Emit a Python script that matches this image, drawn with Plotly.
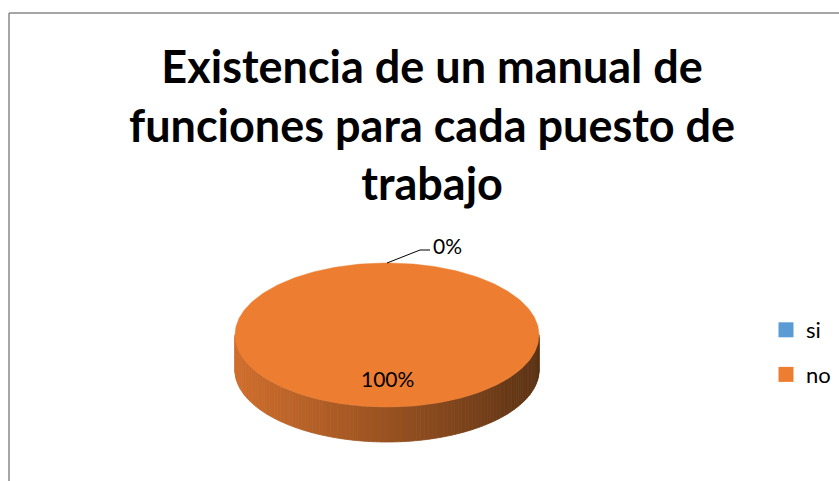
import math
import plotly.graph_objects as go

# Survey answers: does each job position have a manual of functions?
categories = ["si", "no"]
values = [0, 100]
colors = ["#5B9BD5", "#ED7D31"]
title_text = "Existencia de un manual de<br>funciones para cada puesto de<br>trabajo"

W, H = 839, 481
FONT = "Lato"

# 3D pie geometry (pixel-like axis units)
cx, cy = 387, 335
rx, ry = 152, 72
depth = 35

total = sum(values)
fracs = [v / total for v in values]


def pt(theta, dy=0.0, scale=1.0):
    # theta in radians, clockwise from 12 o'clock
    return (cx + scale * rx * math.sin(theta), cy - scale * ry * math.cos(theta) + dy)


def mix(c1, c2, t):
    a = [int(c1[i:i + 2], 16) for i in (1, 3, 5)]
    b = [int(c2[i:i + 2], 16) for i in (1, 3, 5)]
    return "#%02x%02x%02x" % tuple(round(a[k] + (b[k] - a[k]) * t) for k in range(3))


side_light = "#cf6e2d"
side_dark = "#5a3214"

fig = go.Figure()

# side walls (front half only), shaded left to right
starts = []
acc = 0.0
for f in fracs:
    starts.append(acc)
    acc += f
steps = 120
for i, f in enumerate(fracs):
    if f <= 0:
        continue
    a0 = starts[i] * 2 * math.pi
    a1 = (starts[i] + f) * 2 * math.pi
    lo = max(a0, math.pi / 2)
    hi = min(a1, 3 * math.pi / 2)
    if hi <= lo:
        continue
    n = max(2, int(steps * (hi - lo) / math.pi))
    for k in range(n):
        t0 = lo + (hi - lo) * k / n
        t1 = lo + (hi - lo) * (k + 1) / n
        p0, p1 = pt(t0), pt(t1)
        q1, q0 = pt(t1, depth), pt(t0, depth)
        xm = (p0[0] + p1[0]) / 2
        shade = (cx + rx - xm) / (2 * rx)  # 0 at right, 1 at left
        col = mix(side_dark, side_light, shade ** 0.9)
        fig.add_trace(go.Scatter(
            x=[p0[0], p1[0], q1[0], q0[0], p0[0]],
            y=[p0[1], p1[1], q1[1], q0[1], p0[1]],
            mode="lines", fill="toself", fillcolor=col,
            line=dict(color=col, width=0.8),
            hoverinfo="skip", showlegend=False))

# top faces
for i, f in enumerate(fracs):
    if f <= 0:
        continue
    a0 = starts[i] * 2 * math.pi
    a1 = (starts[i] + f) * 2 * math.pi
    n = max(2, int(360 * f))
    xs, ys = [cx], [cy]
    for k in range(n + 1):
        p = pt(a0 + (a1 - a0) * k / n)
        xs.append(p[0])
        ys.append(p[1])
    xs.append(cx)
    ys.append(cy)
    fig.add_trace(go.Scatter(
        x=xs, y=ys, mode="lines", fill="toself", fillcolor=colors[i],
        line=dict(color=colors[i], width=0.5),
        hoverinfo="skip", showlegend=False))

# data labels
annotations = []
for i, f in enumerate(fracs):
    mid = (starts[i] + f / 2) * 2 * math.pi
    label = f"{round(values[i] / total * 100)}%"
    if f >= 0.05:
        lx, ly = pt(mid, scale=0.6)
        annotations.append(dict(x=lx, y=ly, text=label, showarrow=False,
                                font=dict(family=FONT, size=21, color="#000000"),
                                xanchor="center", yanchor="middle"))
    else:
        ex, ey = pt(mid)
        bx, by = ex + 33, ey - 13
        fig.add_trace(go.Scatter(x=[ex, bx, bx + 10], y=[ey, by, by], mode="lines",
                                 line=dict(color="#000000", width=1),
                                 hoverinfo="skip", showlegend=False))
        annotations.append(dict(x=bx + 11, y=by - 5, text=label, showarrow=False,
                                font=dict(family=FONT, size=21, color="#000000"),
                                xanchor="left", yanchor="middle"))

# legend entries
for name, col in zip(categories, colors):
    fig.add_trace(go.Scatter(x=[None], y=[None], mode="markers", name=name,
                             legendgroup=name,
                             marker=dict(symbol="square", size=15, color=col)))

annotations.append(dict(x=432, y=124, text=f"<b>{title_text}</b>",
                        showarrow=False, font=dict(family=FONT, size=45, color="#000000"),
                        xanchor="center", yanchor="middle"))

# chart frame
shapes = [
    dict(type="line", x0=9, x1=W + 5, y0=13, y1=13, line=dict(color="#898989", width=1.5)),
    dict(type="line", x0=9, x1=9, y0=13, y1=H + 5, line=dict(color="#898989", width=1.5)),
]

fig.update_layout(
    width=W, height=H,
    margin=dict(l=0, r=0, t=0, b=0),
    paper_bgcolor="white", plot_bgcolor="white",
    xaxis=dict(range=[0, W], visible=False, fixedrange=True),
    yaxis=dict(range=[H, 0], visible=False, fixedrange=True),
    showlegend=True,
    legend=dict(x=766 / W, y=1 - 309 / H, xanchor="left", yanchor="top",
                font=dict(family=FONT, size=22, color="#000000"),
                tracegroupgap=13, bgcolor="rgba(0,0,0,0)"),
    annotations=annotations,
    shapes=shapes,
)

fig.write_html("out.html")
